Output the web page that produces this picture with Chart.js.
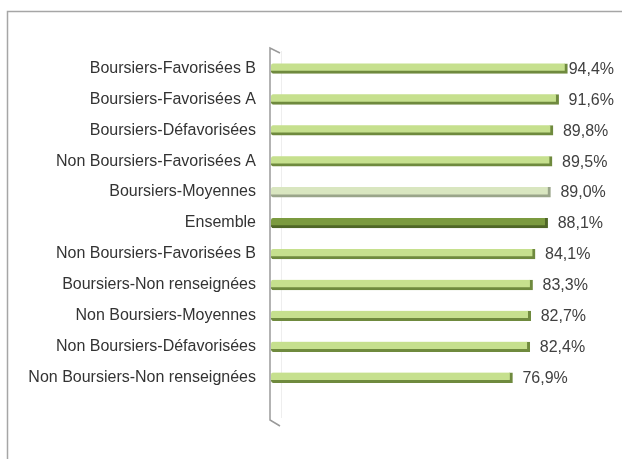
<!DOCTYPE html>
<html>
<head>
<meta charset="utf-8">
<script src="https://cdn.jsdelivr.net/npm/chart.js@4"></script>
<style>
  html, body { margin: 0; padding: 0; background: #fff; }
  #wrap { width: 622px; height: 459px; }
</style>
</head>
<body>
<div id="wrap"><canvas id="myChart" width="622" height="459"></canvas></div>
<script>
// Taux de réussite par catégorie
const categories = [
  "Boursiers-Favorisées B",
  "Boursiers-Favorisées A",
  "Boursiers-Défavorisées",
  "Non Boursiers-Favorisées A",
  "Boursiers-Moyennes",
  "Ensemble",
  "Non Boursiers-Favorisées B",
  "Boursiers-Non renseignées",
  "Non Boursiers-Moyennes",
  "Non Boursiers-Défavorisées",
  "Non Boursiers-Non renseignées",
];
const rates = [94.4, 91.6, 89.8, 89.5, 89.0, 88.1, 84.1, 83.3, 82.7, 82.4, 76.9];

const barFill = categories.map((c) =>
  c === "Ensemble" ? "#7b9a3f" : c === "Boursiers-Moyennes" ? "#d9e6c0" : "#c6e08e"
);
const barEdge = categories.map((c) =>
  c === "Ensemble" ? "#4f6627" : c === "Boursiers-Moyennes" ? "#9aa58a" : "#6f8a3e"
);

const ctx = document.querySelector("#myChart");
const font = "'Liberation Sans', Arial, sans-serif";

const decor = {
  id: "decor",
  beforeDraw(chart) {
    const c = chart.ctx;
    const x0 = chart.scales.x.getPixelForValue(0);
    const area = chart.chartArea;
    c.save();
    // outer frame
    c.strokeStyle = "#a6a6a6";
    c.lineWidth = 1.5;
    c.beginPath();
    c.moveTo(7.5, 470);
    c.lineTo(7.5, 11.5);
    c.lineTo(640, 11.5);
    c.stroke();
    // faint back wall
    c.strokeStyle = "#eeeeee";
    c.lineWidth = 1;
    c.beginPath();
    c.moveTo(x0 + 10.5, area.top - 2);
    c.lineTo(x0 + 10.5, area.bottom + 25);
    c.stroke();
    // 3D axis wall
    c.strokeStyle = "#9a9a9a";
    c.lineWidth = 1.5;
    c.beginPath();
    c.moveTo(x0 + 9, area.top);
    c.lineTo(x0 - 1, area.top - 5);
    c.lineTo(x0 - 1, area.bottom + 27);
    c.lineTo(x0 + 9, area.bottom + 33);
    c.stroke();
    c.restore();
  },
  afterDatasetsDraw(chart) {
    const c = chart.ctx;
    const meta = chart.getDatasetMeta(0);
    c.save();
    c.font = "16px " + font;
    c.fillStyle = "#404040";
    c.textBaseline = "middle";
    meta.data.forEach((bar, i) => {
      const txt = rates[i].toFixed(1).replace(".", ",") + "%";
      const w = c.measureText(txt).width;
      const x = Math.min(bar.x + 10, 614 - w);
      c.fillText(txt, x, bar.y + 1);
    });
    c.restore();
  },
};

new Chart(ctx, {
  type: "bar",
  data: {
    labels: categories,
    datasets: [
      {
        data: rates,
        backgroundColor: barFill,
        borderColor: barEdge,
        borderWidth: { top: 0, right: 3, bottom: 3, left: 0 },
        borderSkipped: false,
        borderRadius: { topLeft: 2, bottomLeft: 2 },
        barThickness: 10,
      },
    ],
  },
  options: {
    indexAxis: "y",
    responsive: false,
    animation: false,
    layout: { padding: { left: 0, right: 37, top: 53, bottom: 66 } },
    plugins: {
      legend: { display: false },
      tooltip: { enabled: false },
    },
    scales: {
      x: { display: false, min: 0, max: 100 },
      y: {
        afterFit(scale) {
          scale.width = 271;
        },
        grid: { display: false, drawTicks: false },
        border: { display: false },
        ticks: {
          padding: 15,
          color: "#333333",
          font: { family: font, size: 16 },
        },
      },
    },
  },
  plugins: [decor],
});
</script>
</body>
</html>
